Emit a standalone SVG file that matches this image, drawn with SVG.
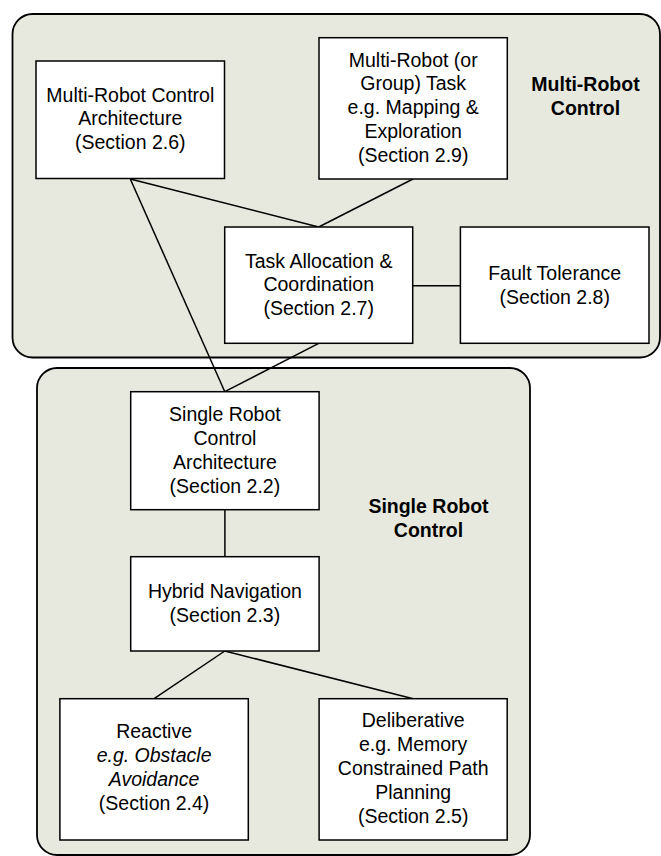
<svg xmlns="http://www.w3.org/2000/svg" width="661" height="856" viewBox="0 0 661 856">
<style>
.grp{fill:#E8E9DE;stroke:#000;stroke-width:1.8}
.box{fill:#fff;stroke:#000;stroke-width:1.5}
.t{font-family:"Liberation Sans",Arial,sans-serif;font-size:19.5px;fill:#000;text-anchor:middle}
.b{font-weight:bold}
.i{font-style:italic}
.c{stroke:#000;stroke-width:1.5;fill:none}
</style>
<rect width="661" height="856" fill="#fff"/>
<g id="group-multi">
<rect class="grp" x="12.5" y="14" width="647.5" height="343.5" rx="20" ry="20"/>
<text class="t b" x="585.5" y="91">Multi-Robot</text>
<text class="t b" x="585.5" y="115">Control</text>
</g>
<g id="group-single">
<rect class="grp" x="37" y="368" width="493" height="487" rx="20" ry="20"/>
<text class="t b" x="428.5" y="513.3">Single Robot</text>
<text class="t b" x="428.5" y="537.3">Control</text>
</g>
<g id="connectors">
<line class="c" x1="130.3" y1="179" x2="318.7" y2="227"/>
<line class="c" x1="413" y1="179" x2="318.7" y2="227"/>
<line class="c" x1="130.3" y1="179" x2="224.8" y2="391.7"/>
<line class="c" x1="318.7" y1="343.3" x2="224.8" y2="391.7"/>
<line class="c" x1="412.7" y1="285.7" x2="460.4" y2="285.7"/>
<line class="c" x1="224.9" y1="509.7" x2="224.9" y2="556.7"/>
<line class="c" x1="224.8" y1="651" x2="154.1" y2="698.7"/>
<line class="c" x1="224.8" y1="651" x2="413.2" y2="698.7"/>
</g>
<g id="mrca">
<rect class="box" x="36" y="61" width="188.5" height="117.5"/>
<text class="t" x="130.3" y="101.5">Multi-Robot Control</text>
<text class="t" x="130.3" y="125.3">Architecture</text>
<text class="t" x="130.3" y="149.1">(Section 2.6)</text>
</g>
<g id="mrtask">
<rect class="box" x="319" y="37.7" width="188.3" height="141.3"/>
<text class="t" x="413.2" y="66.5">Multi-Robot (or</text>
<text class="t" x="413.2" y="90.3">Group) Task</text>
<text class="t" x="413.2" y="114.1">e.g. Mapping &amp;</text>
<text class="t" x="413.2" y="137.9">Exploration</text>
<text class="t" x="413.2" y="161.7">(Section 2.9)</text>
</g>
<g id="taskalloc">
<rect class="box" x="224.7" y="227" width="188" height="116.3"/>
<text class="t" x="318.7" y="267.5">Task Allocation &amp;</text>
<text class="t" x="318.7" y="291.3">Coordination</text>
<text class="t" x="318.7" y="315.1">(Section 2.7)</text>
</g>
<g id="fault">
<rect class="box" x="460.4" y="227" width="188.6" height="116.3"/>
<text class="t" x="554.7" y="280">Fault Tolerance</text>
<text class="t" x="554.7" y="304">(Section 2.8)</text>
</g>
<g id="srca">
<rect class="box" x="130.7" y="391.7" width="188.4" height="118"/>
<text class="t" x="224.9" y="421">Single Robot</text>
<text class="t" x="224.9" y="444.9">Control</text>
<text class="t" x="224.9" y="468.8">Architecture</text>
<text class="t" x="224.9" y="492.7">(Section 2.2)</text>
</g>
<g id="hybrid">
<rect class="box" x="130.7" y="556.7" width="188.4" height="94.3"/>
<text class="t" x="224.9" y="597.5">Hybrid Navigation</text>
<text class="t" x="224.9" y="621.5">(Section 2.3)</text>
</g>
<g id="reactive">
<rect class="box" x="59.9" y="698.7" width="188.4" height="141.3"/>
<text class="t" x="154.1" y="738.3">Reactive</text>
<text class="t i" x="154.1" y="762.2">e.g. Obstacle</text>
<text class="t i" x="154.1" y="786.1">Avoidance</text>
<text class="t" x="154.1" y="810">(Section 2.4)</text>
</g>
<g id="deliberative">
<rect class="box" x="319.1" y="698.7" width="188.1" height="141.3"/>
<text class="t" x="413.2" y="727.3">Deliberative</text>
<text class="t" x="413.2" y="751.2">e.g. Memory</text>
<text class="t" x="413.2" y="775.1">Constrained Path</text>
<text class="t" x="413.2" y="799">Planning</text>
<text class="t" x="413.2" y="822.9">(Section 2.5)</text>
</g>
</svg>
